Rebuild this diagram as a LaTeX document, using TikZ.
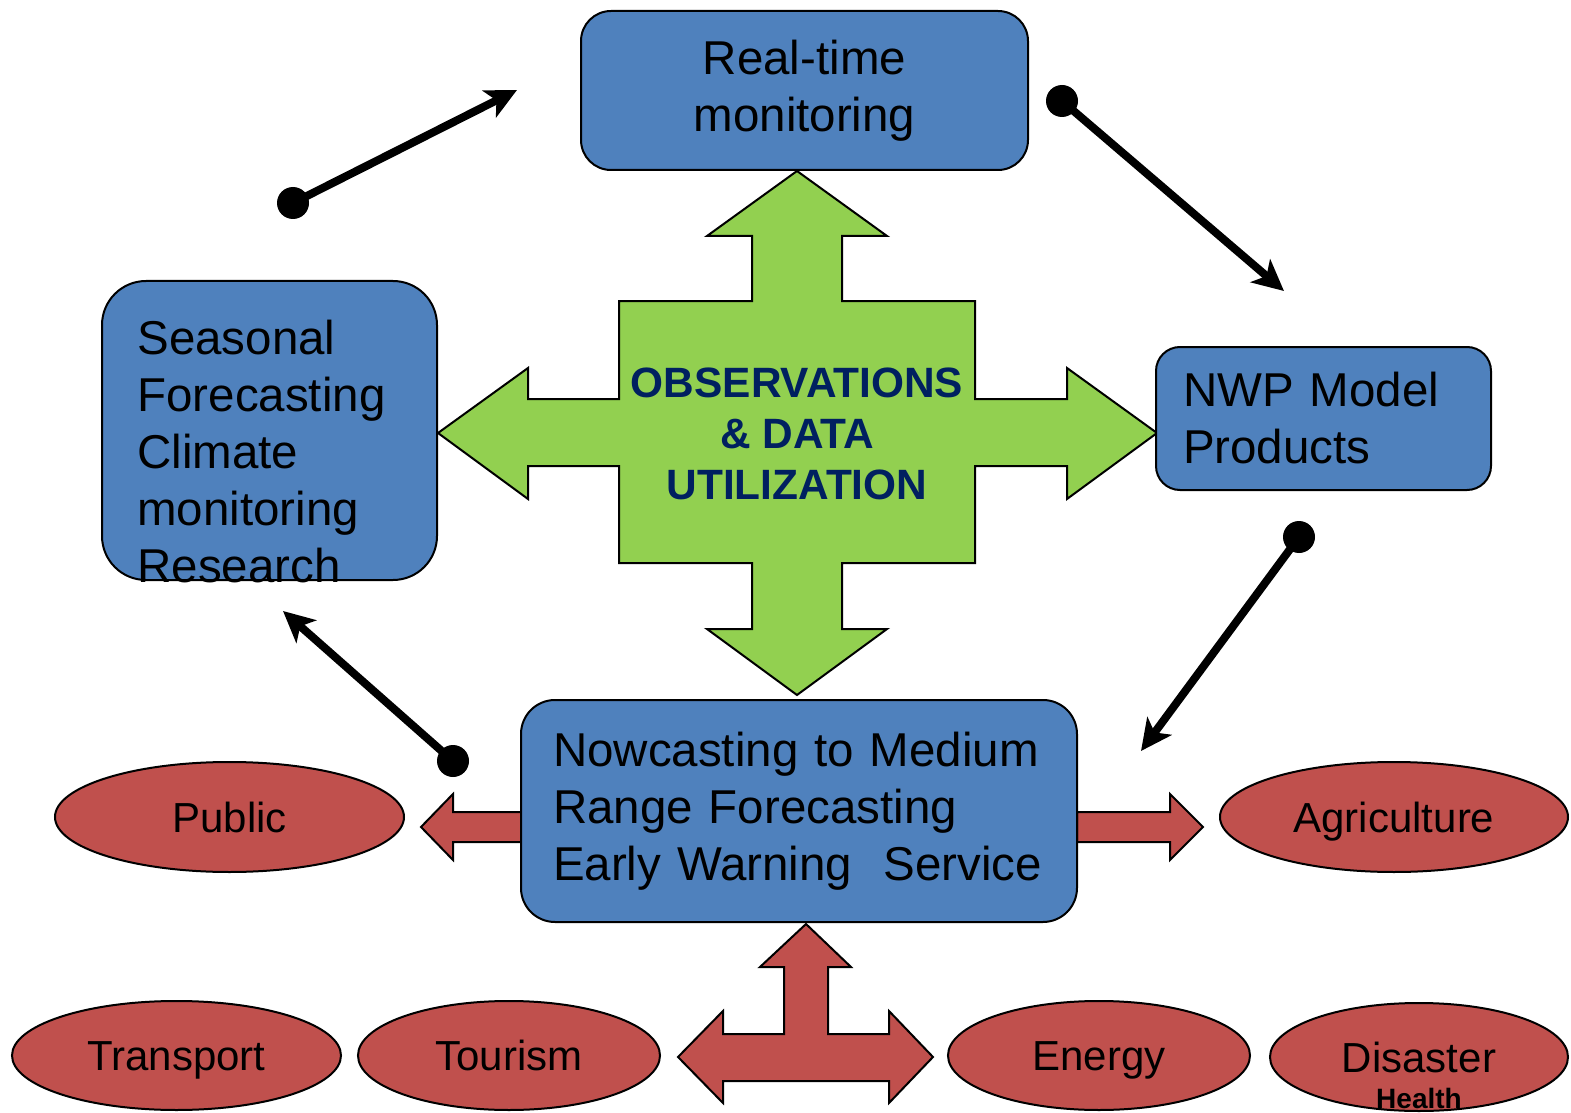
\documentclass[tikz,border=0pt]{standalone}
\usepackage{fontspec}
\setmainfont{Liberation Sans}
\usetikzlibrary{shapes.geometric, arrows.meta}
\definecolor{boxblue}{HTML}{4F81BD}
\definecolor{obsgreen}{HTML}{92D050}
\definecolor{userred}{HTML}{C0504D}
\definecolor{obsnavy}{HTML}{002060}
\newcommand{\boxfont}{\fontsize{23.75}{28.5}\selectfont}
\newcommand{\userfont}{\fontsize{21}{25}\selectfont}

\begin{document}
\begin{tikzpicture}[x=0.5pt, y=-0.5pt,
  box/.style = {draw, line width=1pt, fill=boxblue, rounded corners=#1, inner sep=0pt, font=\boxfont},
  user/.style = {ellipse, draw, line width=1pt, fill=userred, inner sep=0pt, font=\userfont, text height=15pt, text depth=0pt},
  blockarrow/.style = {draw, line width=1pt, line join=miter},
  flow/.style = {line width=4pt, -{Stealth[length=15.5pt, width=15pt, inset=4pt]}},
  startdot/.style = {circle, fill=black, inner sep=0pt, minimum size=16pt}]
\useasboundingbox (0,0) rectangle (1571,1113);

\draw[blockarrow, fill=obsgreen] (797,171) -- (887,236) -- (842,236) -- (842,301) -- (975,301) -- (975,399)
  -- (1067,399) -- (1067,368) -- (1157,433) -- (1067,499) -- (1067,466) -- (975,466) -- (975,563)
  -- (842,563) -- (842,629) -- (887,629) -- (797,695) -- (707,629) -- (752,629) -- (752,563)
  -- (619,563) -- (619,466) -- (528,466) -- (528,499) -- (438,433) -- (528,368) -- (528,399)
  -- (619,399) -- (619,301) -- (752,301) -- (752,236) -- (707,236) -- cycle;
\node[font=\fontsize{21.2}{25.5}\selectfont\bfseries, text=obsnavy, align=center] (obs) at (797,434)
  {OBSERVATIONS\\\& DATA\\UTILIZATION};

\draw[blockarrow, fill=userred] (522,812) -- (453,812) -- (453,794) -- (421,827) -- (453,860) -- (453,842) -- (522,842) -- cycle;
\draw[blockarrow, fill=userred] (1077,812) -- (1170,812) -- (1170,794) -- (1203,827) -- (1170,860) -- (1170,842) -- (1077,842) -- cycle;
\draw[blockarrow, fill=userred] (806,924) -- (851,967) -- (828,967) -- (828,1034) -- (889,1034) -- (889,1011)
  -- (933,1057) -- (889,1103) -- (889,1081) -- (723,1081) -- (723,1103) -- (678,1057) -- (723,1011)
  -- (723,1034) -- (784,1034) -- (784,967) -- (760,967) -- cycle;

\node[box=15pt, minimum width=223.5pt, minimum height=79.5pt, align=center] (rt) at (804.5,90.5) {Real-time\\monitoring};
\node[box=22pt, minimum width=167.5pt, minimum height=149.5pt] (sf) at (269.5,430.5) {};
\node[font=\boxfont, align=left, anchor=north west, inner sep=0pt] (sftext) at (137,320)
  {Seasonal\\Forecasting\\Climate\\monitoring\\Research};
\node[box=12pt, minimum width=167.5pt, minimum height=71.5pt, text width=140.5pt, inner xsep=13.5pt, align=left] (nwp) at (1323.5,418.5)
  {NWP Model\\Products};
\node[box=17pt, minimum width=278pt, minimum height=111pt, text width=246pt, inner xsep=16pt, align=left] (nc) at (799,811)
  {Nowcasting to Medium\\Range Forecasting\\Early Warning\ \ Service};

\node[user, minimum width=174.5pt, minimum height=55pt] (public) at (229.5,817) {Public};
\node[user, minimum width=174pt, minimum height=55pt] (agri) at (1394,817) {Agriculture};
\node[user, minimum width=164.5pt, minimum height=54.5pt] (transport) at (176.5,1055.5) {Transport};
\node[user, minimum width=151pt, minimum height=54.5pt] (tourism) at (509,1055.5) {Tourism};
\node[user, minimum width=151pt, minimum height=54.5pt] (energy) at (1099,1055.5) {Energy};
\node[user, minimum width=149pt, minimum height=54pt] (disaster) at (1419,1057) {Disaster};
\node[font=\fontsize{14}{16}\selectfont\bfseries, inner sep=0pt] (health) at (1419,1098) {Health};

\node[startdot] (d1) at (293,203) {};
\node[startdot] (d2) at (1062,101) {};
\node[startdot] (d3) at (1299,537) {};
\node[startdot] (d4) at (453,761) {};
\coordinate (t1) at (517,90);
\coordinate (t2) at (1284,291);
\coordinate (t3) at (1141,751);
\coordinate (t4) at (283,611);
\draw[flow] (d1.center) -- (t1);
\draw[flow] (d2.center) -- (t2);
\draw[flow] (d3.center) -- (t3);
\draw[flow] (d4.center) -- (t4);
\end{tikzpicture}
\end{document}
